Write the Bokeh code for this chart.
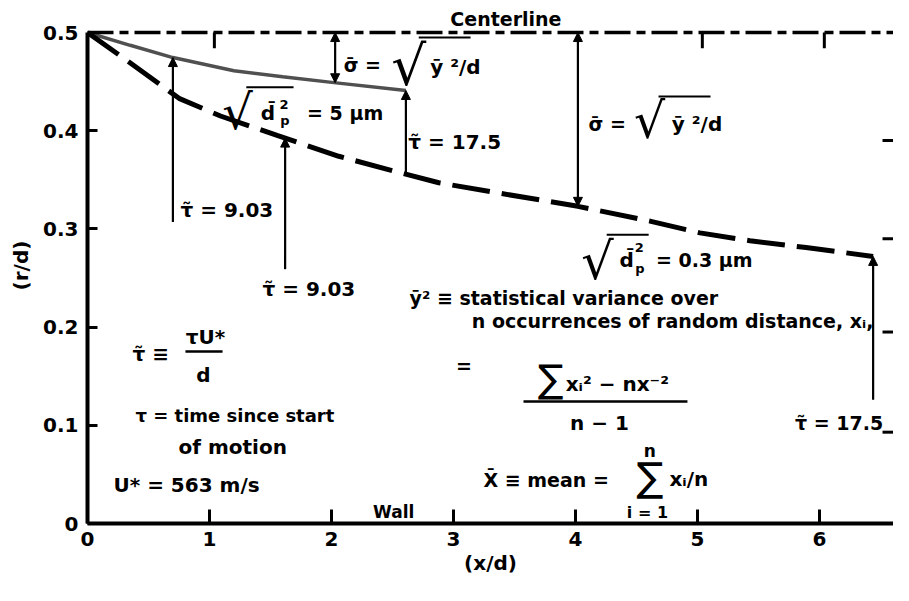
import numpy as np
from bokeh.plotting import figure
from bokeh.models import (Range1d, FixedTicker, CustomJSTickFormatter, Arrow,
                          NormalHead, Span)
from bokeh.core.properties import value
from bokeh.embed import file_html
from bokeh.resources import INLINE

# ---------------- data ----------------
centerline_y = 0.5
solid_x = [0.0, 0.35, 0.70, 1.20, 1.60, 2.02, 2.61]            # sqrt(dp^2) = 5 um
solid_y = [0.5, 0.487, 0.4745, 0.461, 0.455, 0.449, 0.441]
dashed_x = [0.0, 0.34, 0.75, 1.09, 1.56, 2.06, 2.51, 2.88, 3.30, 4.02,
            4.61, 5.02, 5.43, 5.89, 6.44]                         # sqrt(dp^2) = 0.3 um
dashed_y = [0.5, 0.470, 0.433, 0.415, 0.395, 0.374, 0.359, 0.347, 0.338,
            0.323, 0.308, 0.296, 0.288, 0.281, 0.272]
x_ticks = [0, 1, 2, 3, 4, 5, 6]
y_ticks = [0, 0.1, 0.2, 0.3, 0.4, 0.5]
top_ticks = [1.04, 5.04, 6.04]
right_ticks = [0.39, 0.29, 0.195, 0.093]
tau903_solid = (0.70, 0.307)     # (x, lower end of arrow)
tau903_dashed = (1.62, 0.259)
tau175_dashed_low = 0.126
sigma_x = [2.03, 4.02]

X_END = 6.607
Y_END = 0.5255
FONT = "DejaVu Sans"
PX_X = 122.0   # pixels per x unit (for font metric offsets)
PX_Y = 982.0   # pixels per y unit

p = figure(width=893, height=585, output_backend="svg", toolbar_location=None,
           x_range=Range1d(0, X_END), y_range=Range1d(0, Y_END),
           min_border_left=87, min_border_right=0, min_border_top=7,
           min_border_bottom=62)
p.outline_line_color = None
p.grid.visible = False
p.background_fill_color = "white"
p.border_fill_color = "white"

# axes
for ax in (p.xaxis[0], p.yaxis[0]):
    ax.axis_line_width = 4
    ax.axis_line_color = "black"
    ax.major_tick_line_width = 3
    ax.major_tick_line_color = "black"
    ax.minor_tick_line_color = None
    ax.major_tick_out = 0
    ax.major_label_text_font = FONT
    ax.major_label_text_font_style = "bold"
    ax.major_label_text_font_size = "20px"
    ax.major_label_text_color = "black"
    ax.axis_label_text_font = FONT
    ax.axis_label_text_font_style = "bold"
    ax.axis_label_text_font_size = "20px"
    ax.axis_label_text_color = "black"

xa = p.xaxis[0]
xa.ticker = FixedTicker(ticks=x_ticks)
xa.major_tick_in = 14
xa.major_label_standoff = 8
xa.axis_label = "(x/d)"
xa.axis_label_standoff = 2

ya = p.yaxis[0]
ya.ticker = FixedTicker(ticks=y_ticks)
ya.formatter = CustomJSTickFormatter(code="return tick == 0 ? '0' : tick.toFixed(1);")
ya.major_tick_in = 10
ya.major_label_standoff = 9
ya.axis_label = "(r/d)"
ya.axis_label_standoff = 7
ya.bounds = (0, centerline_y)

# centerline
p.add_layout(Span(location=centerline_y, dimension="width", line_color="black",
                  line_width=3.5, line_dash="26 6 9 6"))
# ticks hanging from the centerline and on the right edge
p.segment(x0=top_ticks, y0=[centerline_y] * len(top_ticks), x1=top_ticks,
          y1=[centerline_y - 0.016] * len(top_ticks), line_width=3, line_color="black")
p.segment(x0=[X_END] * len(right_ticks), y0=right_ticks,
          x1=[X_END - 0.09] * len(right_ticks), y1=right_ticks,
          line_width=3, line_color="black")

# curves
p.line(solid_x, solid_y, line_color="#505050", line_width=3.5)
p.line(dashed_x, dashed_y, line_color="black", line_width=5, line_dash="38 12")

def solid_at(x):
    return float(np.interp(x, solid_x, solid_y))

def dashed_at(x):
    return float(np.interp(x, dashed_x, dashed_y))

def arrow(x, y0, y1, both=False):
    head = dict(size=9, fill_color="black", line_color="black")
    p.add_layout(Arrow(x_start=x, y_start=y0, x_end=x, y_end=y1,
                       line_width=2.2, line_color="black",
                       end=NormalHead(**head),
                       start=NormalHead(**head) if both else None))

arrow(tau903_solid[0], tau903_solid[1], solid_at(tau903_solid[0]))
arrow(tau903_dashed[0], tau903_dashed[1], dashed_at(tau903_dashed[0]))
arrow(solid_x[-1], dashed_at(solid_x[-1]), solid_y[-1])
arrow(dashed_x[-1], tau175_dashed_low, dashed_y[-1])
arrow(sigma_x[0], solid_at(sigma_x[0]), centerline_y, both=True)
arrow(sigma_x[1], dashed_at(sigma_x[1]), centerline_y, both=True)

def txt(x, y, s, size=19, align="left", style="bold"):
    # y is the visual baseline; the svg text sits ~0.35em lower than asked
    p.text(x=[x], y=[y + 0.35 * size / PX_Y], text=[s], text_font=value(FONT),
           text_font_style=style, text_font_size=f"{size}px", text_align=align,
           text_baseline="alphabetic", text_color="black")

def bar(x0, x1, y, w=2.5):
    p.segment(x0=[x0], y0=[y], x1=[x1], y1=[y], line_width=w, line_color="black")

def radical(x_left, y_bottom, size, x_bar_end):
    txt(x_left, y_bottom - 0.05 * size / PX_Y, "√", size, style="normal")
    bar(x_left + 0.50 * size / PX_X, x_bar_end, y_bottom + 0.82 * size / PX_Y, 2)

txt(3.43, 0.507, "Centerline", 19, "center")
txt(2.51, 0.006, "Wall", 17, "center")

# sigma label 1
txt(2.10, 0.460, "σ̄ =", 19)
radical(2.49, 0.449, 55, 3.14)
txt(2.81, 0.458, "ȳ ²/d", 20)
# sigma label 2
txt(4.107, 0.400, "σ̄ =", 19)
radical(4.48, 0.394, 49, 5.107)
txt(4.79, 0.400, "ȳ ²/d", 20)

# sqrt(dp^2) = 5 um
radical(1.105, 0.4043, 48, 1.689)
txt(1.42, 0.4114, "d̄", 20)
txt(1.574, 0.4216, "2", 13)
txt(1.580, 0.4053, "p", 13)
txt(1.80, 0.4114, "= 5 μm", 19)
# sqrt(dp^2) = 0.3 um
radical(4.047, 0.2515, 51, 4.60)
txt(4.36, 0.2617, "d̄", 20)
txt(4.485, 0.276, "2", 13)
txt(4.490, 0.2546, "p", 13)
txt(4.66, 0.2617, "= 0.3 μm", 19)

# tau labels
txt(2.63, 0.381, "τ̃ = 17.5", 20)
txt(0.762, 0.3126, "τ̃ = 9.03", 20)
txt(1.434, 0.2312, "τ̃ = 9.03", 20)
txt(5.80, 0.0957, "τ̃ = 17.5", 19)

# variance definition
txt(2.64, 0.223, "ȳ² ≡ statistical variance over", 19)
txt(3.15, 0.1996, "n occurrences of random distance, xᵢ,", 19)
txt(3.02, 0.1538, "=", 19)
txt(3.69, 0.1293 + 0.1 * 38 / PX_Y, "∑", 38, style="normal")
txt(3.92, 0.1354, "xᵢ² − nx⁻²", 20)
bar(3.574, 4.918, 0.1242)
txt(4.197, 0.0957, "n − 1", 20, "center")

# mean definition
txt(3.246, 0.0377, "X̄ ≡ mean =", 19)
txt(4.61, 0.0295 + 0.1 * 40 / PX_Y, "∑", 40, "center", style="normal")
txt(4.61, 0.0682, "n", 17, "center")
txt(4.77, 0.0377, "xᵢ/n", 20)
txt(4.59, 0.006, "i = 1", 16, "center")

# tau definition
txt(0.369, 0.165, "τ̃ ≡", 20)
txt(0.967, 0.1823, "τU*", 20, "center")
bar(0.803, 1.107, 0.1752)
txt(0.951, 0.1446, "d", 20, "center")
txt(0.393, 0.1039, "τ = time since start", 18)
txt(0.746, 0.0703, "of motion", 20)
txt(0.213, 0.0316, "U* = 563 m/s", 20)

open("out.html", "w").write(file_html(p, INLINE))
